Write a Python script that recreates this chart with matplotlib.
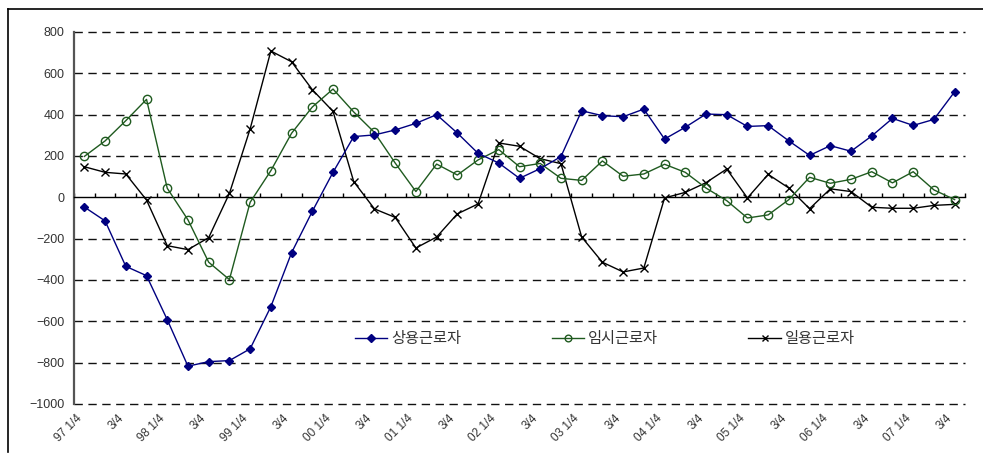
import matplotlib
matplotlib.use('Agg')
import matplotlib.pyplot as plt
from matplotlib.lines import Line2D
import numpy as np

plt.rcParams['font.family'] = ['Liberation Sans', 'Noto Sans CJK KR', 'DejaVu Sans']

quarters = ['97 1/4', '97 2/4', '97 3/4', '97 4/4', '98 1/4', '98 2/4', '98 3/4', '98 4/4',
            '99 1/4', '99 2/4', '99 3/4', '99 4/4', '00 1/4', '00 2/4', '00 3/4', '00 4/4',
            '01 1/4', '01 2/4', '01 3/4', '01 4/4', '02 1/4', '02 2/4', '02 3/4', '02 4/4',
            '03 1/4', '03 2/4', '03 3/4', '03 4/4', '04 1/4', '04 2/4', '04 3/4', '04 4/4',
            '05 1/4', '05 2/4', '05 3/4', '05 4/4', '06 1/4', '06 2/4', '06 3/4', '06 4/4',
            '07 1/4', '07 2/4', '07 3/4']
tick_labels = ['97 1/4', '3/4', '98 1/4', '3/4', '99 1/4', '3/4', '00 1/4', '3/4',
               '01 1/4', '3/4', '02 1/4', '3/4', '03 1/4', '3/4', '04 1/4', '3/4',
               '05 1/4', '3/4', '06 1/4', '3/4', '07 1/4', '3/4']

regular = [-47, -114, -334, -379, -592, -817, -795, -790, -733, -529, -268, -68, 121,
           294, 302, 326, 358, 400, 311, 213, 166, 92, 139, 197,
           419, 395, 390, 427, 282, 339, 403, 400, 343, 347, 273, 203,
           250, 223, 297, 382, 348, 377, 511]
temporary = [198, 273, 371, 474, 44, -109, -314, -398, -24, 129, 310, 437, 524,
             413, 314, 166, 28, 161, 108, 181, 231, 148, 164, 92,
             82, 176, 102, 113, 160, 121, 45, -16, -100, -85, -11, 97,
             68, 87, 124, 70, 124, 36, -11]
daily = [148, 121, 113, -13, -234, -253, -195, 19, 331, 708, 656, 521, 416,
         76, -56, -97, -245, -192, -80, -32, 263, 247, 187, 163,
         -192, -314, -361, -342, -3, 24, 71, 137, -3, 111, 45, -55,
         41, 28, -48, -53, -53, -39, -34]
series_names = ['상용근로자', '임시근로자', '일용근로자']
yticks = [-1000, -800, -600, -400, -200, 0, 200, 400, 600, 800]

W, H = 983, 455
fig = plt.figure(figsize=(W / 100, H / 100), dpi=100)
ax = fig.add_axes([74 / W, 1 - 404 / H, (965 - 74) / W, (404 - 32) / H])

x = np.arange(len(quarters))
ax.plot(x, regular, color='#000080', lw=1.0, marker='D', ms=4.5, mfc='#000080', mec='#000080',
        label=series_names[0], zorder=5)
ax.plot(x, temporary, color='#1F5A1F', lw=1.0, marker='o', ms=6, mfc='none', mec='#1F5A1F',
        mew=1.0, label=series_names[1], zorder=4)
ax.plot(x, daily, color='black', lw=1.0, marker='x', ms=6, mew=1.0,
        label=series_names[2], zorder=3)

ax.set_xlim(-0.5, len(quarters) - 0.5)
ax.set_ylim(-1000, 800)

for v in yticks:
    if v != 0:
        ax.axhline(v, color='#111111', lw=1.0, ls=(0, (6, 4)), clip_on=False, zorder=1)

for s in ['top', 'right']:
    ax.spines[s].set_visible(False)
ax.spines['left'].set_color('#555555')
ax.spines['left'].set_linewidth(1.6)
ax.spines['bottom'].set_position(('data', 0))
ax.spines['bottom'].set_color('black')
ax.spines['bottom'].set_linewidth(1.0)

ax.set_yticks(yticks)
ax.set_yticklabels([f'{v}'.replace('-', '\u2212') for v in yticks])
ax.tick_params(axis='y', length=0, pad=7, labelsize=9, labelcolor='#333333')

bounds = np.arange(len(quarters) + 1) - 0.5
ax.set_xticks(bounds)
ax.set_xticklabels([])
ax.tick_params(axis='x', direction='in', length=3, width=1, color='black')

sec = ax.secondary_xaxis(0)
sec.spines['bottom'].set_visible(False)
sec.set_xticks(x[::2])
sec.set_xticklabels(tick_labels, rotation=45, ha='right', fontsize=8.5, color='#333333')
sec.tick_params(axis='x', length=0, pad=6)

leg = fig.legend(loc='center', bbox_to_anchor=(605 / W, 1 - 339 / H), ncol=3, frameon=False,
                 fontsize=11, handlelength=2.1, handletextpad=0.3, columnspacing=5.9,
                 numpoints=1, labelcolor='#333333', markerscale=0.8)

fig.add_artist(Line2D([8 / W, 1.0], [1 - 9 / H, 1 - 9 / H], color='black', lw=1.2,
                      transform=fig.transFigure))
fig.add_artist(Line2D([8 / W, 8 / W], [1 - 9 / H, 1 - 452 / H], color='black', lw=1.2,
                      transform=fig.transFigure))

fig.savefig('out.png', dpi=100)
